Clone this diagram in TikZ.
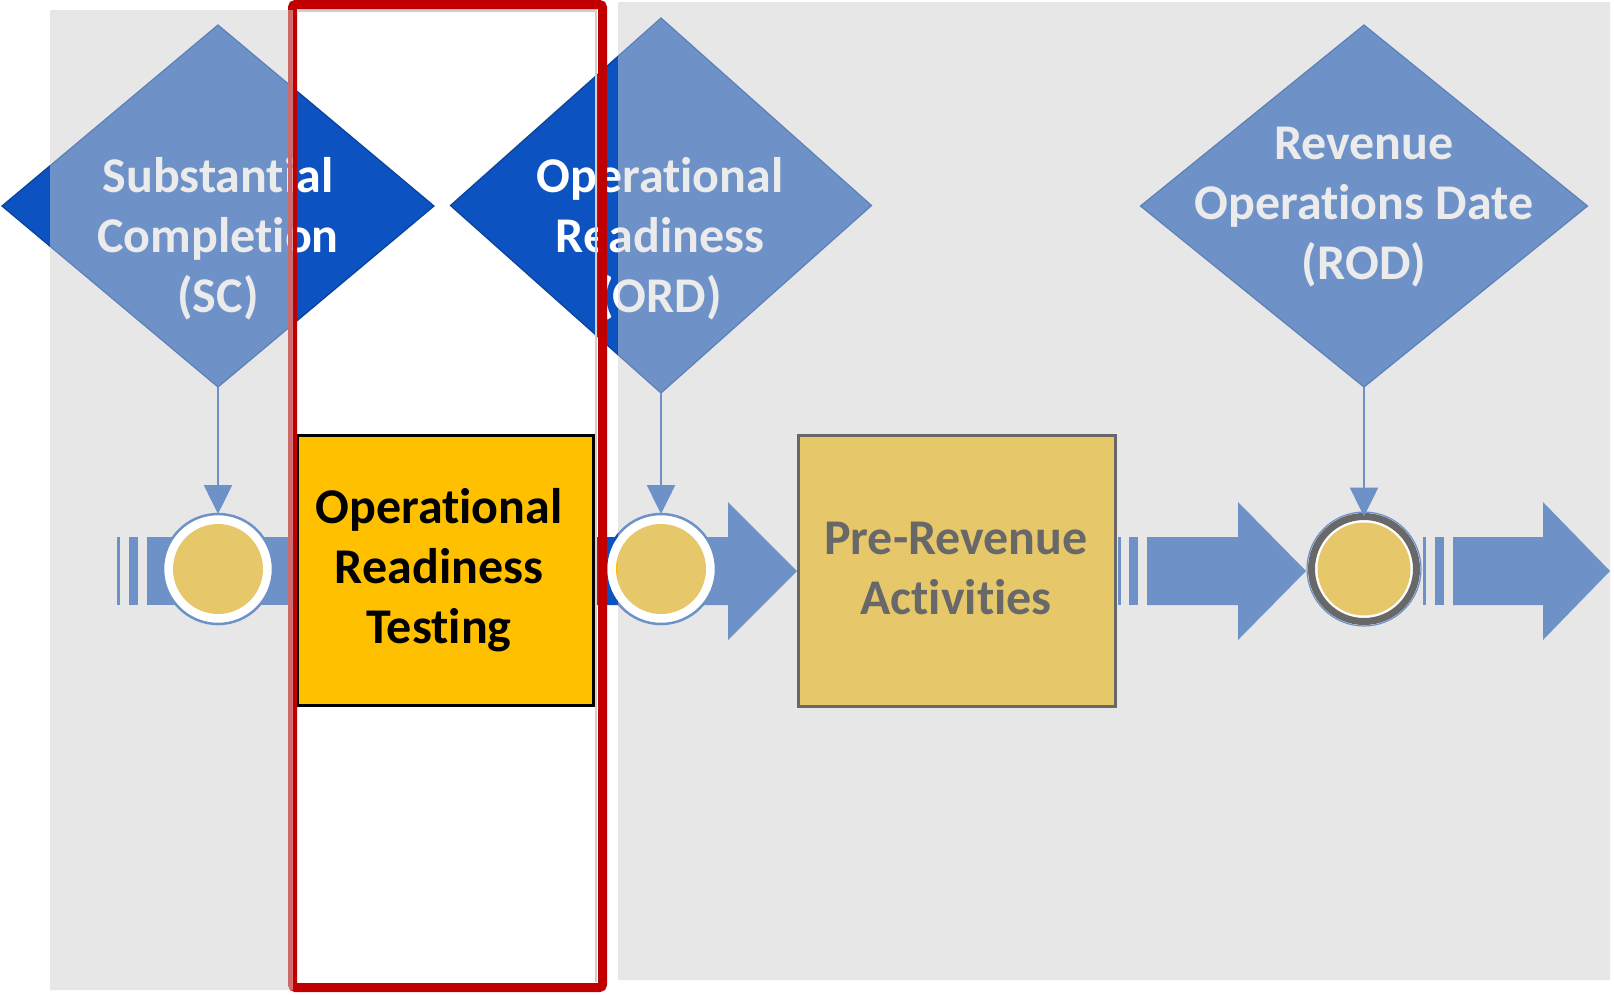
\documentclass[tikz,border=0pt]{standalone}
\usepackage{fontspec}
\setmainfont{Carlito}[RawFeature={-liga;-clig;-dlig}]
\usetikzlibrary{shapes.geometric,arrows.meta}
\definecolor{panelgray}{HTML}{E7E7E7}
\definecolor{uBlue}{HTML}{0C52C0}
\definecolor{uEdge}{HTML}{0A4399}
\definecolor{uYel}{HTML}{FFC000}
\definecolor{uInk}{HTML}{000000}
\definecolor{uTxt}{HTML}{FFFFFF}
\definecolor{uRed}{HTML}{C00000}
\definecolor{fBlue}{HTML}{6E92C8}
\definecolor{fEdge}{HTML}{5C80B7}
\definecolor{fYel}{HTML}{E6C86A}
\definecolor{fInk}{HTML}{686868}
\definecolor{fTxt}{HTML}{EBEBEB}
\definecolor{fRed}{HTML}{D06A6A}
\definecolor{shadowc}{HTML}{CFCFCF}
\newcommand{\setpal}[1]{\colorlet{cBlue}{#1Blue}\colorlet{cEdge}{#1Edge}\colorlet{cYel}{#1Yel}\colorlet{cInk}{#1Ink}\colorlet{cTxt}{#1Txt}\colorlet{cRed}{#1Red}}
\setpal{u}
\tikzset{
  dia/.style={diamond, fill=cBlue, draw=cEdge, line width=1.2pt, inner sep=0pt, outer sep=0pt},
  dtext/.style={text=cTxt, font=\fontsize{50}{60}\selectfont\bfseries, align=center, inner sep=0pt},
  btext/.style={text=cInk, font=\fontsize{50}{60}\selectfont\bfseries, align=center, inner sep=0pt},
  taskbox/.style={rectangle, fill=cYel, draw=cInk, line width=3pt, inner sep=0pt, outer sep=0pt},
  ev/.style={circle, fill=white, draw=cBlue, line width=2.5pt, inner sep=0pt, outer sep=0pt, minimum size=110pt},
  endev/.style={circle, fill=white, draw=cInk, line width=7pt, inner sep=0pt, outer sep=0pt, minimum size=105pt},
  vconn/.style={draw=cBlue, line width=2.5pt, -{Triangle[width=28pt,length=29pt]}},
  flow/.style={fill=cBlue},
  hilite/.style={draw=cRed, line width=9pt, rounded corners=3pt},
}
\newcommand{\drawdiag}[1]{%
  % flow arrows
  \fill[flow] (117,537) rectangle (120,605);
  \fill[flow] (129,537) rectangle (138,605);
  \fill[flow] (147,537) rectangle (300,605);
  \fill[flow] (590,537) -- (728,537) -- (728,502) -- (797,571) -- (728,640) -- (728,605) -- (590,605) -- cycle;
  \fill[flow] (1118,537) rectangle (1121,605);
  \fill[flow] (1129,537) rectangle (1138,605);
  \fill[flow] (1147,537) -- (1238,537) -- (1238,502) -- (1306,571) -- (1238,640) -- (1238,605) -- (1147,605) -- cycle;
  \fill[flow] (1423,537) rectangle (1426,605);
  \fill[flow] (1435,537) rectangle (1444,605);
  \fill[flow] (1453,537) -- (1543,537) -- (1543,502) -- (1610,571) -- (1543,640) -- (1543,605) -- (1453,605) -- cycle;
  % events
  \node[ev] (scc#1) at (218,569) {};
  \fill[cYel] (scc#1.center) circle (45pt);
  \node[ev] (ordc#1) at (661,569) {};
  \fill[cYel] (ordc#1.center) circle (45pt);
  \node[endev] (rodc#1) at (1364,569) {};
  \draw[cBlue, line width=1.2pt] (rodc#1.center) circle (57pt);
  \fill[cYel] (rodc#1.center) circle (46.5pt);
  % milestones
  \node[dia, minimum width=432pt, minimum height=362pt] (sc#1) at (218,206) {};
  \node[dia, minimum width=421pt, minimum height=375pt] (ord#1) at (661,205.5) {};
  \node[dia, minimum width=447pt, minimum height=362pt] (rod#1) at (1364,206) {};
  \draw[vconn] (sc#1.south) -- (scc#1.north);
  \draw[vconn] (ord#1.south) -- (ordc#1.north);
  \draw[vconn] (rod#1.south) -- (rodc#1.north);
  \node[dtext] (sct#1) at (218,240) {\strut Substantial\\\strut Completion\\\strut (SC)};
  \node[dtext] (ordt#1) at (660,240) {\strut Operational\\\strut Readiness\\\strut (ORD)};
  \node[dtext] (rodt#1) at (1364,207) {\strut Revenue\\\strut Operations Date\\\strut (ROD)};
  % shadow inside highlight
  \draw[shadowc, line width=2.5pt] (298,10.5) -- (596,10.5) -- (596,982);
  % tasks
  \node[taskbox, minimum width=296pt, minimum height=270pt] (ort#1) at (445.5,570.5) {};
  \node[btext] (ortt#1) at (439,571) {\strut Operational\\\strut Readiness\\\strut Testing};
  \node[taskbox, minimum width=317pt, minimum height=271pt] (prb#1) at (956.5,571) {};
  \node[btext] (prt#1) at (956,572) {\strut Pre-Revenue\\\strut Activities};
  % highlight
  \draw[hilite] (292.5,4.5) rectangle (602.5,987.5);
}
\begin{document}
\begin{tikzpicture}[x=1pt,y=-1pt]
\useasboundingbox (0,0) rectangle (1614,994);
\fill[white] (0,0) rectangle (1614,994);
\setpal{u}
\drawdiag{u}
\begin{scope}
\setpal{f}
\clip (50,10) rectangle (292.5,990) (618,2) rectangle (1610,980);
\fill[panelgray] (0,0) rectangle (1614,994);
\drawdiag{f}
\end{scope}
\end{tikzpicture}
\end{document}
